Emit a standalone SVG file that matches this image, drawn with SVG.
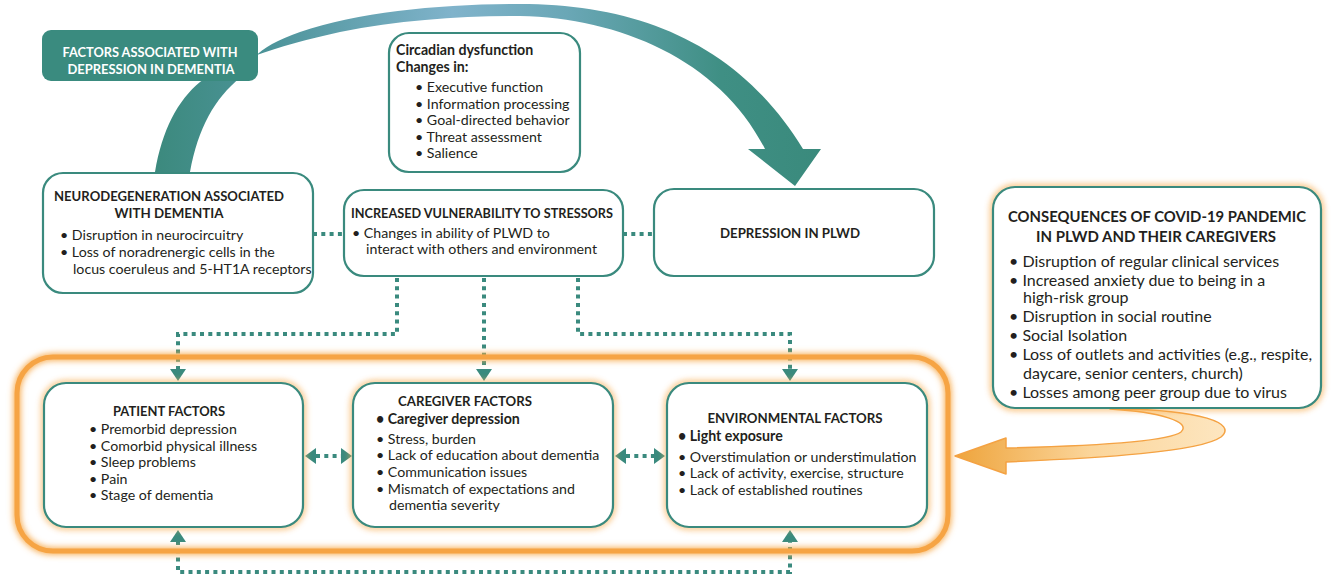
<svg xmlns="http://www.w3.org/2000/svg" width="1337" height="578" viewBox="0 0 1337 578">
<defs>
<style>
text{font-family:Lato,"Liberation Sans",sans-serif;fill:#231f20;font-size:14.2px}
.b{font-weight:bold}
.t{font-weight:bold;font-size:13.5px}
.w{fill:#fff;font-weight:bold;font-size:13.5px}
.c{text-anchor:middle}
.big{font-size:16px}
.bigt{font-size:15.5px;font-weight:bold}
.box{fill:#fff;stroke:#3a8a7e;stroke-width:2.2}
.glow{fill:none;stroke:#f7a94a;stroke-width:7;filter:url(#blur)}
.dot{fill:none;stroke:#3a8a7e;stroke-width:4;stroke-dasharray:4 4.3}
.ah{fill:#3a8a7e}
</style>
<filter id="blur" x="-10%" y="-10%" width="120%" height="120%"><feGaussianBlur stdDeviation="3"/></filter>
<linearGradient id="teal" gradientUnits="userSpaceOnUse" x1="150" y1="0" x2="822" y2="0">
<stop offset="0" stop-color="#3b897c"/>
<stop offset="0.18" stop-color="#4d949a"/>
<stop offset="0.45" stop-color="#80b3cb"/>
<stop offset="0.62" stop-color="#6aa7b6"/>
<stop offset="0.85" stop-color="#3f8f84"/>
<stop offset="1" stop-color="#3a8a7c"/>
</linearGradient>
<linearGradient id="org" gradientUnits="userSpaceOnUse" x1="1225" y1="0" x2="955" y2="0">
<stop offset="0" stop-color="#fde6c0"/>
<stop offset="0.5" stop-color="#fbd59a"/>
<stop offset="1" stop-color="#eea43c"/>
</linearGradient>
</defs>
<rect width="1337" height="578" fill="#fff"/>

<g id="big-arrow">
<path d="M190,172 C198,128 215,98 240,78 C248,60 262,45 300,32 C360,12 440,4 520,4 C640,4 740,45 803,149 L821,149 L795,186 L748,149 L765,149 C720,60 620,18 520,16 C460,16 400,20 340,32 C280,45 230,62 200,82 C178,100 162,130 155,172 Z" fill="url(#teal)"/>
</g>

<g id="factors-label">
<rect x="42" y="30" width="216" height="51" rx="9" fill="#3a8b7f"/>
<text class="w c" x="150" y="57" textLength="175" lengthAdjust="spacingAndGlyphs">FACTORS ASSOCIATED WITH</text>
<text class="w c" x="151" y="74" textLength="167" lengthAdjust="spacingAndGlyphs">DEPRESSION IN DEMENTIA</text>
</g>

<g id="circadian">
<rect class="box" x="389" y="33" width="191" height="139" rx="20"/>
<text class="b" x="396" y="55">Circadian dysfunction</text>
<text class="b" x="396" y="72">Changes in:</text>
<text x="415" y="92">• Executive function</text>
<text x="415" y="109">• Information processing</text>
<text x="415" y="125">• Goal-directed behavior</text>
<text x="415" y="142">• Threat assessment</text>
<text x="415" y="158">• Salience</text>
</g>

<g id="connectors">
<path class="dot" d="M313,234 H343"/>
<path class="dot" d="M623,234 H653"/>
<path class="dot" d="M397,278 V334 H178 V370"/>
<path class="dot" d="M484,278 V370"/>
<path class="dot" d="M578,278 V334 H790 V370"/>
<path class="ah" d="M170,369 L186,369 L178,381 Z"/>
<path class="ah" d="M476,369 L492,369 L484,381 Z"/>
<path class="ah" d="M782,369 L798,369 L790,381 Z"/>
<path class="dot" d="M316,456 H342"/>
<path class="ah" d="M305,456 L316,448 L316,464 Z"/>
<path class="ah" d="M352,456 L341,448 L341,464 Z"/>
<path class="dot" d="M626,456 H655"/>
<path class="ah" d="M615,456 L626,448 L626,464 Z"/>
<path class="ah" d="M665,456 L654,448 L654,464 Z"/>
<path class="dot" d="M178,541 V572 H790 V541"/>
<path class="ah" d="M170,542 L186,542 L178,530 Z"/>
<path class="ah" d="M782,542 L798,542 L790,530 Z"/>
</g>

<g id="neurodegeneration">
<rect class="box" x="43" y="173" width="270" height="120" rx="20"/>
<text class="t c" x="169" y="201" textLength="230" lengthAdjust="spacingAndGlyphs">NEURODEGENERATION ASSOCIATED</text>
<text class="t c" x="169" y="218" textLength="109" lengthAdjust="spacingAndGlyphs">WITH DEMENTIA</text>
<text x="60" y="240">•  Disruption in neurocircuitry</text>
<text x="60" y="257">•  Loss of noradrenergic cells in the</text>
<text x="73" y="274">locus coeruleus and 5-HT1A receptors</text>
</g>

<g id="vulnerability">
<rect class="box" x="344" y="190" width="279" height="86" rx="20"/>
<text class="t c" x="482" y="218" textLength="262" lengthAdjust="spacingAndGlyphs">INCREASED VULNERABILITY TO STRESSORS</text>
<text x="352" y="238">•  Changes in ability of PLWD to</text>
<text x="366" y="254">interact with others and environment</text>
</g>

<g id="depression">
<rect class="box" x="654" y="189" width="280" height="87" rx="20"/>
<text class="t c" x="790" y="238" textLength="140" lengthAdjust="spacingAndGlyphs">DEPRESSION IN PLWD</text>
</g>

<g id="frame">
<rect class="glow" x="17" y="357" width="931" height="194" rx="36"/>
<rect x="17" y="357" width="931" height="194" rx="36" fill="none" stroke="#f6a444" stroke-width="5"/>
</g>

<g id="patient">
<rect class="glow" x="44" y="383" width="259" height="144" rx="22" style="stroke-width:5;opacity:.8"/>
<rect class="box" x="44" y="383" width="259" height="144" rx="22"/>
<text class="t c" x="169" y="416" textLength="112" lengthAdjust="spacingAndGlyphs">PATIENT FACTORS</text>
<text x="89" y="434">•  Premorbid depression</text>
<text x="89" y="451">•  Comorbid physical illness</text>
<text x="89" y="467">•  Sleep problems</text>
<text x="89" y="484">•  Pain</text>
<text x="89" y="500">•  Stage of dementia</text>
</g>

<g id="caregiver">
<rect class="glow" x="353" y="383" width="260" height="144" rx="22" style="stroke-width:5;opacity:.8"/>
<rect class="box" x="353" y="383" width="260" height="144" rx="22"/>
<text class="t c" x="465" y="406" textLength="134" lengthAdjust="spacingAndGlyphs">CAREGIVER FACTORS</text>
<text class="b" x="376" y="424">•  Caregiver depression</text>
<text x="376" y="444">•  Stress, burden</text>
<text x="376" y="460">•  Lack of education about dementia</text>
<text x="376" y="477">•  Communication issues</text>
<text x="376" y="494">•  Mismatch of expectations and</text>
<text x="389" y="510">dementia severity</text>
</g>

<g id="environmental">
<rect class="glow" x="667" y="383" width="260" height="144" rx="22" style="stroke-width:5;opacity:.8"/>
<rect class="box" x="667" y="383" width="260" height="144" rx="22"/>
<text class="t c" x="795" y="423" textLength="175" lengthAdjust="spacingAndGlyphs">ENVIRONMENTAL FACTORS</text>
<text class="b" x="678" y="441">•  Light exposure</text>
<text x="678" y="462">•  Overstimulation or understimulation</text>
<text x="678" y="478">•  Lack of activity, exercise, structure</text>
<text x="678" y="495">•  Lack of established routines</text>
</g>

<g id="covid-arrow">
<path d="M1120,409 C1200,410 1238,423 1221,437 C1200,452 1100,458 1006,462 L1006,474 L955,456 L1006,438 L1006,448 C1090,446 1168,442 1181,432 C1192,422 1160,412 1110,409 Z" fill="url(#org)" stroke="#f4a243" stroke-width="1.5" stroke-linejoin="round"/>
</g>

<g id="covid">
<rect class="glow" x="993" y="187" width="328" height="221" rx="22" style="stroke-width:5;opacity:.85"/>
<rect class="box" x="993" y="187" width="328" height="221" rx="22"/>
<text class="bigt c" x="1157" y="222" textLength="298" lengthAdjust="spacingAndGlyphs">CONSEQUENCES OF COVID-19 PANDEMIC</text>
<text class="bigt c" x="1156" y="242" textLength="240" lengthAdjust="spacingAndGlyphs">IN PLWD AND THEIR CAREGIVERS</text>
<text class="big" x="1009" y="267">•  Disruption of regular clinical services</text>
<text class="big" x="1009" y="286">•  Increased anxiety due to being in a</text>
<text class="big" x="1023" y="303">high-risk group</text>
<text class="big" x="1009" y="322">•  Disruption in social routine</text>
<text class="big" x="1009" y="341">•  Social Isolation</text>
<text class="big" x="1009" y="360">•  Loss of outlets and activities (e.g., respite,</text>
<text class="big" x="1023" y="379">daycare, senior centers, church)</text>
<text class="big" x="1009" y="398">•  Losses among peer group due to virus</text>
</g>
</svg>
